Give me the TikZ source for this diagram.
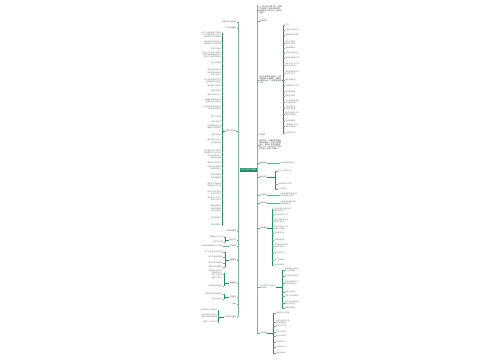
\documentclass[tikz,border=0pt]{standalone}
\usepackage{fontspec}
\newfontfamily\cjk{Noto Sans CJK SC}
\XeTeXlinebreaklocale "zh"
\XeTeXlinebreakskip=0pt plus 0.5pt
\definecolor{gr}{RGB}{34,139,96}
\definecolor{grl}{RGB}{120,185,160}
\definecolor{tx}{RGB}{120,120,120}
\begin{document}
\begin{tikzpicture}[x=1pt,y=-1pt,
  txt/.style={font=\cjk\fontsize{1.7}{2.3}\selectfont,text=tx,inner sep=0.2pt},
  lft/.style={txt,anchor=east,align=right},
  rgt/.style={txt,anchor=west,align=left},
  par/.style={txt,text=black!80,align=left,text width=#1,font=\cjk\fontsize{1.8}{2.1}\selectfont},
  lvl/.style={txt,text=black!70},
  trunk/.style={draw=grl,line width=0.7pt},
  br/.style={draw=gr,line width=0.45pt},
  cn/.style={draw=gr!70,line width=0.3pt}]
\useasboundingbox[fill=white] (0,0) rectangle (500,360);
% trunks
\coordinate (lt) at (238,22);
\coordinate (lb) at (238,317);
\coordinate (rt) at (257,5);
\coordinate (rb) at (257,333);
\draw[trunk] (lt) -- (lb);
\draw[trunk] (rt) -- (rb);
\node[fill=gr,text=white,font=\cjk\fontsize{2}{2.4}\selectfont,minimum width=17pt,minimum height=4.5pt,inner sep=0.4pt] (c) at (248,170) {工作计划范文模板};
\draw[trunk] (c.west) -- (238,170);
\draw[trunk] (c.east) -- (257,170);

% ---------- left side ----------
\foreach \n/\y/\t in {L1/22/{年度工作计划总结},L2/28/{工作计划概述},L4/231/{工作目标要求},L5/240/{重点工作},L6/246/{工作措施},L7/260/{具体安排},L8/283/{保障措施},L9/297/{工作要求},L10/304/{其他},L11/317/{工作总结与展望}}{
  \node[lvl,anchor=east] (\n) at (236.5,\y) {\t};
  \draw[cn] (\n.east) -- (238,\y);
}
\node[lvl,anchor=east] (L3) at (236,131) {主要工作内容};
\draw[cn] (L3.east) -- (238,131);
\coordinate (b3t) at (222.5,33);
\coordinate (b3b) at (222.5,225);
\draw[br] (b3t) -- (b3b);
\draw[br] (L3.west) -- (222.5,131);
\foreach \y/\t in {
 35/{认真学习相关政策文件精神\\进一步提高思想认识水平\\明确工作的方向和目标},
 43/{加强组织领导落实责任\\确保各项工作顺利开展},
 49/{完善工作制度},
 55/{坚持以人为本的工作理念\\不断提升服务质量和水平\\推动工作取得新的成效},
 63/{强化日常管理},
 70/{做好各项准备工作},
 74/{加强沟通协调配合\\形成工作合力},
 81/{深入开展调查研究工作\\及时解决存在的问题},
 86/{建立健全工作机制},
 91/{加强队伍建设},
 95/{提高业务能力水平},
 101/{认真做好宣传教育工作\\营造良好的工作氛围},
 108/{积极开展各类培训活动\\提升综合素质能力},
 117/{规范工作流程},
 122/{严格考核评价},
 127/{加强监督检查力度\\确保工作落到实处},
 135/{注重工作实效},
 140/{做好总结分析工作},
 143/{及时整改问题},
 152/{充分发挥示范引领作用\\带动整体工作水平提升},
 157/{加强信息报送工作\\做到及时准确},
 163/{做好安全保障工作},
 168/{完善应急处置预案\\提高应对能力},
 175/{加强资料管理},
 178/{做好档案整理},
 185/{推进工作创新发展\\探索新的工作方法},
 193/{加强与各部门联系\\形成良好互动},
 199/{落实各项工作任务\\按时完成计划},
 206/{做好经费保障},
 210/{加强作风建设\\树立良好形象},
 218/{总结经验做法},
 225/{持续改进提升}}{
  \node[lft] (lc\y) at (221.5,\y) {\t};
  \draw[cn] (lc\y.east) -- (222.5,\y);
}
% L5 children
\draw[br] (225,237) -- (225,242);
\draw[br] (L5.west) -- (225,240);
\foreach \y/\t in {237/{明确重点工作任务},242/{抓好工作落实}}{
  \node[lft] (l5c\y) at (224,\y) {\t};
  \draw[cn] (l5c\y.east) -- (225,\y);
}
% L6 child
\node[lft] (l6c) at (223,246) {采取有效措施推进工作开展};
\draw[cn] (l6c.east) -- (L6.west);
% L7 children
\draw[br] (225,252) -- (225,267);
\draw[br] (L7.west) -- (225,260);
\foreach \y/\t in {252/{第一阶段准备工作安排},257/{第二阶段组织实施},263/{第三阶段检查落实},267/{第四阶段总结提高}}{
  \node[lft] (l7c\y) at (222.5,\y) {\t};
  \draw[cn] (l7c\y.east) -- (225,\y);
}
% L8 children
\draw[br] (224,273) -- (224,286);
\draw[br] (L8.west) -- (224,283);
\foreach \y/\t in {274/{加强组织领导工作\\明确责任分工\\落实工作职责\\确保工作到位},286/{加强督促检查落实}}{
  \node[lft] (l8c\y) at (222.5,\y) {\t};
  \draw[cn] (l8c\y.east) -- (224,\y);
}
% L9 children
\draw[br] (224,294) -- (224,299);
\draw[br] (L9.west) -- (224,297);
\foreach \y/\t in {294/{严格遵守各项规章制度},299/{按时完成任务}}{
  \node[lft] (l9c\y) at (222.5,\y) {\t};
  \draw[cn] (l9c\y.east) -- (224,\y);
}
% L11 children
\draw[br] (218.5,310) -- (218.5,323);
\draw[br] (L11.west) -- (218.5,317);
\foreach \y/\t in {310/{认真总结工作经验做法},316/{查找存在的不足之处\\提出改进的意见建议},322/{展望下一阶段工作}}{
  \node[lft] (l11c\y) at (217.5,\y) {\t};
  \draw[cn] (l11c\y.east) -- (218.5,\y);
}

% ---------- right side ----------
\node[par=23pt,anchor=west] (R1) at (259,10) {为了更好地开展工作，提高工作效率，结合实际情况，特制定本工作计划，具体内容如下。};
\draw[cn] (257,10) -- (R1.west);
\node[lvl,anchor=west] (R2) at (259.5,21) {指导思想};
\draw[cn] (257,21) -- (R2.west);
\node[par=22pt,anchor=west] (R3) at (259,80) {以科学发展观为指导，认真贯彻落实上级要求，围绕中心服务大局，扎实推进各项工作。};
\draw[cn] (257,80) -- (R3.west);
\draw[br] (283,25) -- (283,133);
\draw[br] (R3.east) -- (283,80);
\foreach \y/\t in {
 25/{工作}, 30/{加强学习提高认识}, 35/{明确目标任务要求},
 43/{突出工作重点\\狠抓工作落实}, 48/{完善规章制度},
 53/{加强队伍建设工作}, 58/{提高服务质量水平},
 65/{创新工作方式方法\\提升工作效率}, 73/{做好各项协调工作\\形成工作合力},
 80/{强化监督检查}, 86/{加强宣传引导工作},
 92/{做好信息报送}, 96/{落实安全责任},
 102/{认真开展自查自纠\\及时整改问题}, 108/{加强沟通交流\\互相学习借鉴},
 114/{做好总结评比工作\\表彰先进典型}, 121/{抓好制度落实},
 126/{不断提高工作水平\\推动工作发展}, 133/{完成各项任务}}{
  \node[rgt] (rc\y) at (285,\y) {\t};
  \draw[cn] (283,\y) -- (rc\y.west);
}
\node[lvl,anchor=west] (R4) at (258,135) {工作目标};
\draw[cn] (257,135) -- (R4.west);
\node[par=22pt,anchor=west] (R5) at (259,145) {通过努力，全面完成年度各项目标任务，工作水平明显提升，整体工作取得新进展，为下一步工作打下坚实的基础，实现工作目标。};
\draw[cn] (257,145) -- (R5.west);
% R6
\node[lvl,anchor=west] (R6) at (259.5,163) {基本原则};
\draw[cn] (257,163) -- (R6.west);
\node[rgt] (r6c) at (280,163) {坚持统筹兼顾原则};
\draw[cn] (R6.east) -- (r6c.west);
% R7
\node[lvl,anchor=west] (R7) at (259.5,177) {组织机构};
\draw[cn] (257,177) -- (R7.west);
\draw[br] (275,171) -- (275,189);
\draw[br] (R7.east) -- (275,177);
\foreach \y/\t in {171/{成立工作领导小组},184/{组长副组长及成员},189/{办公室设置}}{
  \node[rgt] (r7c\y) at (277.5,\y) {\t};
  \draw[cn] (275,\y) -- (r7c\y.west);
}
% R8, R9
\node[lvl,anchor=west] (R8) at (259.5,195) {工作职责};
\draw[cn] (257,195) -- (R8.west);
\node[rgt] (r8c) at (280,195) {负责统筹协调各项工作\\研究解决重大问题};
\draw[cn] (R8.east) -- (r8c.west);
\node[lvl,anchor=west] (R9) at (259.5,203) {实施步骤};
\draw[cn] (257,203) -- (R9.west);
\node[rgt] (r9c) at (280,203) {分阶段有序推进实施\\确保取得实效};
\draw[cn] (R9.east) -- (r9c.west);
% R10
\node[lvl,anchor=west] (R10) at (259.5,228) {主要措施};
\draw[cn] (257,228) -- (R10.west);
\draw[br] (272,209) -- (272,266);
\draw[br] (R10.east) -- (272,228);
\foreach \y/\t in {
 210/{强化思想认识提高站位\\增强责任意识}, 215/{加强组织领导工作},
 221/{健全完善工作机制\\落实工作责任}, 228/{加大工作投入力度\\保障工作需要},
 233/{注重宣传引导}, 240/{加强督查考核},
 246/{严格落实责任追究\\确保工作实效}, 253/{做好总结工作},
 260/{推广经验做法}, 265/{持续巩固提升}}{
  \node[rgt] (r10c\y) at (274,\y) {\t};
  \draw[cn] (272,\y) -- (r10c\y.west);
}
% R11
\node[txt,anchor=west,align=left,text width=16pt] (R11) at (259.5,287) {工作要求及注意事项具体说明};
\draw[cn] (257,287) -- (R11.west);
\draw[br] (282,270) -- (282,308);
\draw[br] (R11.east) -- (282,287);
\foreach \y/\t in {
 270/{高度重视认真组织\\精心安排部署}, 276/{密切配合协调联动},
 283/{加强检查指导工作\\及时发现问题}, 292/{注重工作实效},
 296/{严肃工作纪律要求}, 303/{及时总结上报情况\\做好信息反馈}, 308/{确保按期完成}}{
  \node[rgt] (r11c\y) at (284.5,\y) {\t};
  \draw[cn] (282,\y) -- (r11c\y.west);
}
% R12
\node[lvl,anchor=west] (R12) at (259.5,333) {工作总结};
\draw[cn] (257,333) -- (R12.west);
\draw[br] (273,313) -- (273,353);
\draw[br] (R12.east) -- (273,333);
\foreach \y/\t in {
 313/{全面总结工作成效}, 322/{认真分析存在问题\\研究改进措施}, 326/{明确下步打算},
 332/{巩固工作成果}, 336/{建立长效机制}, 342/{持续推进工作},
 347/{不断提升水平}, 353/{完成目标任务}}{
  \node[rgt] (r12c\y) at (275.5,\y) {\t};
  \draw[cn] (273,\y) -- (r12c\y.west);
}
\end{tikzpicture}
\end{document}
